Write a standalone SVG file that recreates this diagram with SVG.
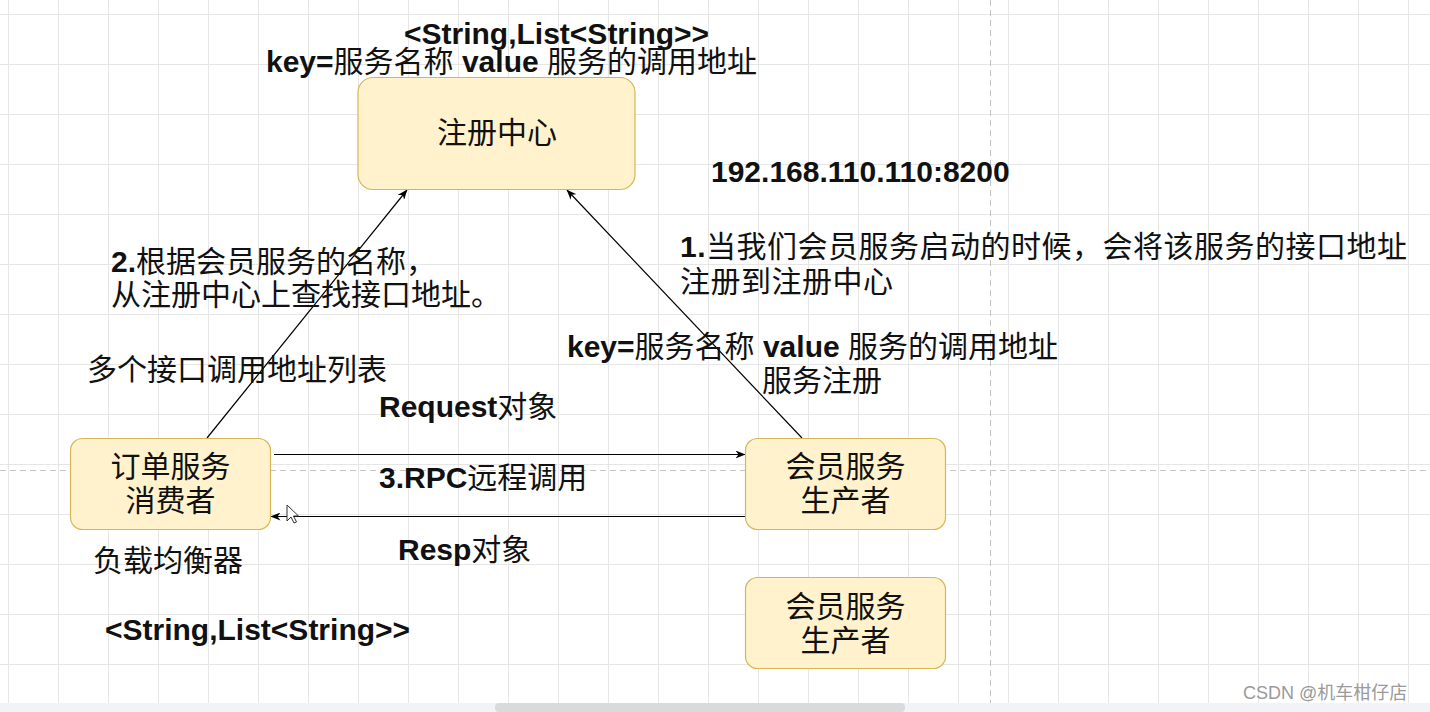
<svg xmlns="http://www.w3.org/2000/svg" width="1430" height="712" viewBox="0 0 1430 712">
  <defs>
    <pattern id="grid" x="8" y="14" width="50" height="50" patternUnits="userSpaceOnUse">
      <path d="M0.5 0V50M0 0.5H50" stroke="#e6e6e6" stroke-width="1" fill="none"/>
    </pattern>
    <marker id="arr" viewBox="0 0 10 8" refX="9.5" refY="4" markerWidth="10" markerHeight="8" markerUnits="userSpaceOnUse" orient="auto">
      <path d="M0 0L10 4L0 8L3 4Z" fill="#000"/>
    </marker>
    <style>
      .t { font-family: "Liberation Sans", "Noto Sans CJK SC", sans-serif; font-size: 30px; fill: #111; }
      .b { font-weight: bold; }
      .node rect { fill: #fff2cc; stroke: #d6b656; stroke-width: 1.2; }
      .nt { font-family: "Liberation Serif", "Noto Sans CJK SC", serif; font-size: 30px; fill: #111; text-anchor: middle; }
      .edge { stroke: #000; stroke-width: 1.2; fill: none; marker-end: url(#arr); }
      .pb { stroke: #c4c4c4; stroke-width: 1; stroke-dasharray: 6 4; fill: none; }
    </style>
  </defs>

  <!-- background -->
  <rect x="0" y="0" width="1430" height="712" fill="#ffffff"/>
  <rect x="0" y="0" width="1430" height="703" fill="url(#grid)"/>
  <path class="pb" d="M0 470.5H1430M990.5 0V703"/>
  <rect x="0" y="703" width="1430" height="9" fill="#f1f3f6"/>
  <rect x="495" y="703" width="410" height="9" rx="4" fill="#d9dadc"/>

  <!-- connectors -->
  <g id="connectors">
    <line class="edge" x1="207" y1="438" x2="407" y2="190"/>
    <line class="edge" x1="802" y1="438" x2="567" y2="190"/>
    <line class="edge" x1="274" y1="454.5" x2="745" y2="454.5"/>
    <line class="edge" x1="745" y1="516.5" x2="271" y2="516.5"/>
  </g>

  <!-- nodes -->
  <g id="registry" class="node">
    <rect x="358" y="77.5" width="277" height="112" rx="15"/>
    <text class="nt" x="497" y="143">注册中心</text>
  </g>
  <g id="consumer" class="node">
    <rect x="70.5" y="438.5" width="200" height="91" rx="12"/>
    <text class="nt" x="170.5" y="477">订单服务</text>
    <text class="nt" x="170.5" y="511">消费者</text>
  </g>
  <g id="provider1" class="node">
    <rect x="745.5" y="438.5" width="200" height="91" rx="12"/>
    <text class="nt" x="845.5" y="477">会员服务</text>
    <text class="nt" x="845.5" y="511">生产者</text>
  </g>
  <g id="provider2" class="node">
    <rect x="745.5" y="577.5" width="200" height="91" rx="12"/>
    <text class="nt" x="845.5" y="617">会员服务</text>
    <text class="nt" x="845.5" y="651">生产者</text>
  </g>

  <!-- labels -->
  <g id="labels">
    <text class="t b" x="404" y="44">&lt;String,List&lt;String&gt;&gt;</text>
    <text class="t" x="266" y="72"><tspan class="b">key=</tspan>服务名称 <tspan class="b">value</tspan> 服务的调用地址</text>
    <text class="t b" x="711" y="182">192.168.110.110:8200</text>
    <text class="t" x="680" y="257" letter-spacing="0.5"><tspan class="b">1.</tspan>当我们会员服务启动的时候，会将该服务的接口地址</text>
    <text class="t" x="680" y="292" letter-spacing="0.5">注册到注册中心</text>
    <text class="t" x="111" y="272"><tspan class="b">2.</tspan>根据会员服务的名称，</text>
    <text class="t" x="111" y="305">从注册中心上查找接口地址。</text>
    <text class="t" x="87" y="380">多个接口调用地址列表</text>
    <text class="t" x="567" y="357"><tspan class="b">key=</tspan>服务名称 <tspan class="b">value</tspan> 服务的调用地址</text>
    <text class="t" x="762" y="391">服务注册</text>
    <text class="t" x="379" y="417"><tspan class="b">Request</tspan>对象</text>
    <text class="t" x="379" y="488"><tspan class="b">3.RPC</tspan>远程调用</text>
    <text class="t" x="398" y="560"><tspan class="b">Resp</tspan>对象</text>
    <text class="t" x="93" y="571">负载均衡器</text>
    <text class="t b" x="105" y="640">&lt;String,List&lt;String&gt;&gt;</text>
  </g>

  <!-- mouse cursor -->
  <polygon points="287,505 287,521 291,517 294,523 296.5,522 293.5,516 298.5,516" fill="#fff" stroke="#333" stroke-width="1"/>

  <!-- watermark -->
  <text x="1243" y="699" style="font-family: 'Liberation Sans', 'Noto Sans CJK SC', sans-serif; font-size: 18px; fill: #9a9a9a;">CSDN @机车柑仔店</text>
</svg>
